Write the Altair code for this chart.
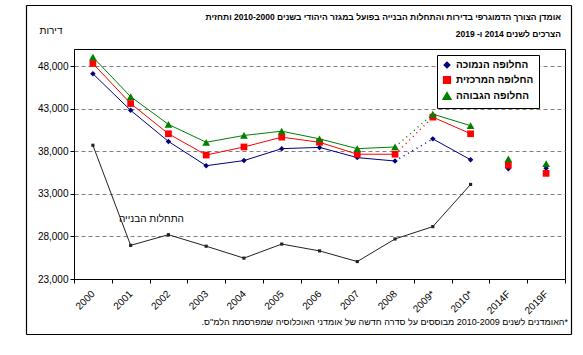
import altair as alt
import pandas as pd

categories = ["2000", "2001", "2002", "2003", "2004", "2005", "2006", "2007",
              "2008", "2009*", "2010*", "2014F", "2019F"]
low = [47100, 42800, 39150, 36300, 36900, 38300, 38450, 37250, 36850, 39450, 37000, 35950, 36000]
mid = [48300, 43600, 40050, 37550, 38500, 39650, 39050, 37650, 37650, 42000, 40050, 36350, 35400]
high = [49050, 44400, 41150, 39050, 39850, 40350, 39450, 38300, 38500, 42350, 41000, 37100, 36550]
starts = [38700, 26950, 28200, 26850, 25450, 27100, 26300, 25050, 27700, 29150, 34100]

series_names = ["החלופה הנמוכה", "החלופה המרכזית", "החלופה הגבוהה"]
series_colors = ["#000080", "#FF0000", "#008000"]
series_shapes = ["diamond", "square", "triangle-up"]
series_sizes = [30, 60, 45]
starts_label = "התחלות הבנייה"
y_ticks = [23000, 28000, 33000, 38000, 43000, 48000]

RLM = "\u200f"
title_line1 = RLM + "אומדן הצורך הדמוגרפי בדירות והתחלות הבנייה בפועל במגזר היהודי בשנים 2010-2000 ותחזית" + RLM
title_line2 = RLM + "הצרכים לשנים 2014 ו- 2019" + RLM
y_title = "דירות"
footnote = RLM + "*האומדנים לשנים 2010-2009 מבוססים על סדרה חדשה של אומדני האוכלוסיה שמפרסמת הלמ\"ס." + RLM

FONT = "Liberation Sans"

rows = []
for name, vals in zip(series_names, [low, mid, high]):
    for i, (c, v) in enumerate(zip(categories, vals)):
        rows.append({"cat": c, "value": v, "series": name, "idx": i})
df = pd.DataFrame(rows)

df_starts = pd.DataFrame({"cat": categories[:len(starts)], "value": starts})
df_one = pd.DataFrame({"t1": [title_line1], "t2": [title_line2], "fn": [footnote]})

x_enc = alt.X(
    "cat:N",
    sort=categories,
    scale=alt.Scale(type="band", domain=categories, paddingInner=0, paddingOuter=0),
    axis=alt.Axis(
        title=None, labelAngle=-45, labelAlign="right", labelBaseline="middle",
        labelPadding=9, tickBand="extent", tickSize=4, tickColor="black",
        domainColor="black", labelFont=FONT, labelFontSize=10, labelColor="black",
        grid=False,
    ),
)
y_enc = alt.Y(
    "value:Q",
    scale=alt.Scale(domain=[23000, 50000], nice=False, zero=False),
    axis=alt.Axis(
        values=y_ticks, format=",d", title=y_title, titleAngle=0, titleX=-12, titleY=-19,
        titleAlign="right", titleBaseline="middle", titleFont=FONT, titleFontSize=10,
        titleFontWeight="normal", titleColor="black",
        labelFont=FONT, labelFontSize=10, labelColor="black", labelPadding=2,
        tickSize=4, tickColor="black", domainColor="black",
        grid=True, gridColor="#808080", gridDash=[4, 3], gridWidth=1,
    ),
)
color_scale = alt.Scale(domain=series_names, range=series_colors)
shape_scale = alt.Scale(domain=series_names, range=series_shapes)

legend = alt.Legend(
    title=None, orient="none", legendX=363, legendY=6, fillColor="white",
    strokeColor="black", padding=5, labelFont=FONT, labelFontSize=10,
    labelFontWeight="bold", labelColor="black", rowPadding=2, labelLimit=200,
)
color_enc = alt.Color("series:N", scale=color_scale, legend=legend)

base = alt.Chart(df)

line_a = base.transform_filter("datum.idx <= 8").mark_line(strokeWidth=1).encode(
    x=x_enc, y=y_enc, color=color_enc, detail="series:N")
line_b = base.transform_filter("datum.idx >= 8 && datum.idx <= 9").mark_line(
    strokeWidth=1.5, strokeDash=[1, 4]).encode(
    x=x_enc, y=y_enc, color=color_enc, detail="series:N")
line_c = base.transform_filter("datum.idx >= 9 && datum.idx <= 10").mark_line(strokeWidth=1).encode(
    x=x_enc, y=y_enc, color=color_enc, detail="series:N")

points = base.mark_point(filled=True, opacity=1).encode(
    x=x_enc, y=y_enc,
    color=color_enc,
    shape=alt.Shape("series:N", scale=shape_scale, legend=legend),
    size=alt.Size("series:N", scale=alt.Scale(domain=series_names, range=series_sizes), legend=None),
)

starts_line = alt.Chart(df_starts).mark_line(color="#222222", strokeWidth=1).encode(x=x_enc, y=y_enc)
starts_pts = alt.Chart(df_starts).mark_point(
    filled=True, shape="square", size=10, color="#222222", opacity=1).encode(x=x_enc, y=y_enc)

starts_text = alt.Chart(df_one).mark_text(
    font=FONT, fontSize=10, color="black", align="center", baseline="middle", dx=-17
).encode(x=alt.datum("2002"), y=alt.datum(30100), text=alt.value(starts_label))

def text_layer(field, xv, yv, size, weight):
    return alt.Chart(df_one).mark_text(
        font=FONT, fontSize=size, fontWeight=weight, color="black", align="right", baseline="middle"
    ).encode(x=alt.value(xv), y=alt.value(yv), text=f"{field}:N")

title1 = text_layer("t1", 487, -32, 8.5, "bold")
title2 = text_layer("t2", 487, -15, 8.5, "bold")
note = text_layer("fn", 494, 273, 9, "normal")

def hrule(x, x2, y):
    return alt.Chart().mark_rule(color="black", strokeWidth=1.2).encode(
        x=alt.value(x), x2=alt.value(x2), y=alt.value(y))

def vrule(x, y, y2):
    return alt.Chart().mark_rule(color="black", strokeWidth=1.2).encode(
        x=alt.value(x), y=alt.value(y), y2=alt.value(y2))

frame = [
    hrule(-47.5, 497.5, -43.5),
    hrule(-47.5, 497.5, 285.5),
    vrule(-47.5, -43.5, 285.5),
    vrule(497.5, -43.5, 285.5),
]

chart = alt.layer(
    line_a, line_b, line_c, starts_line, starts_pts, points, starts_text,
    title1, title2, note, *frame
).properties(
    width=491, height=230,
    padding={"left": 74, "top": 49, "right": 18, "bottom": 76},
    autosize="none",
    background="white",
).configure_view(stroke="black", strokeWidth=1).configure_legend(strokeWidth=1)

chart.save("out.html", embed_options={"renderer": "svg", "actions": False})
